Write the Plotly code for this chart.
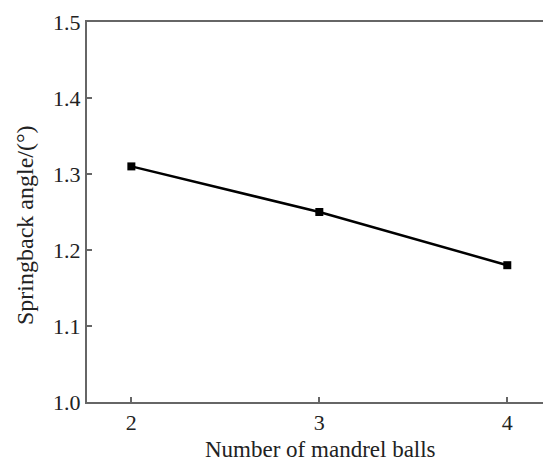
import plotly.graph_objects as go

balls = [2, 3, 4]
springback = [1.31, 1.25, 1.18]
x_ticks = [2, 3, 4]
y_ticks = [1.0, 1.1, 1.2, 1.3, 1.4, 1.5]
y_tick_labels = ["1.0", "1.1", "1.2", "1.3", "1.4", "1.5"]

font_family = "Liberation Serif, Times New Roman, serif"
axis_color = "#666666"
text_color = "#222222"

L, R, T, B = 87, 0, 22, 61
W, H = 543, 463
pw = W - L - R
ph = H - T - B

fig = go.Figure()
fig.add_trace(go.Scatter(
    x=balls, y=springback, mode="lines+markers",
    line=dict(color="black", width=2.5),
    marker=dict(symbol="square", size=8, color="black"),
    showlegend=False,
))

fig.update_layout(
    width=W, height=H,
    margin=dict(l=L, r=R, t=T, b=B),
    paper_bgcolor="white", plot_bgcolor="white",
    font=dict(family=font_family, size=22, color=text_color),
    xaxis=dict(
        range=[1.764, 4.19], tickvals=x_ticks, ticktext=[str(v) for v in x_ticks],
        showline=True, linecolor=axis_color, linewidth=2, mirror=True,
        ticks="inside", ticklen=5, tickwidth=1.5, tickcolor=axis_color,
        showgrid=False, zeroline=False,
        tickfont=dict(family=font_family, size=22, color=text_color),
    ),
    yaxis=dict(
        range=[1.0, 1.5], tickvals=y_ticks, ticktext=y_tick_labels,
        showline=True, linecolor=axis_color, linewidth=2,
        ticks="inside", ticklen=5, tickwidth=1.5, tickcolor=axis_color,
        showgrid=False, zeroline=False,
        tickfont=dict(family=font_family, size=22, color=text_color),
    ),
    annotations=[
        dict(text="Number of mandrel balls",
             x=(320 - L) / pw, y=(H - 449 - B) / ph,
             xref="paper", yref="paper", xanchor="center", yanchor="middle",
             showarrow=False, font=dict(family=font_family, size=23, color=text_color)),
        dict(text="Springback angle/(°)",
             x=(25 - L) / pw, y=(H - 225 - B) / ph,
             xref="paper", yref="paper", xanchor="center", yanchor="middle",
             showarrow=False, textangle=-90,
             font=dict(family=font_family, size=24, color=text_color)),
    ],
)

fig.write_html("out.html")
